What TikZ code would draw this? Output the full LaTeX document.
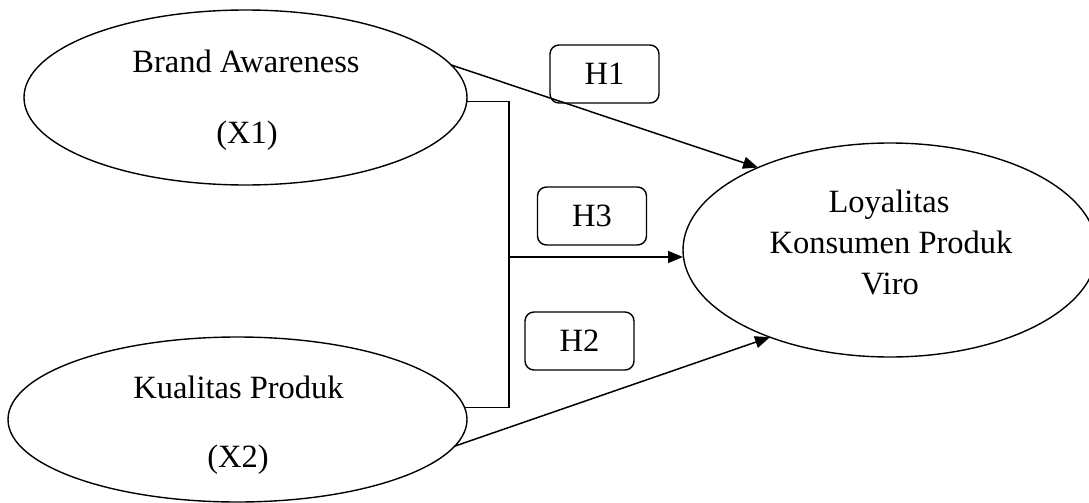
\documentclass[tikz,border=0pt]{standalone}
\usepackage{fontspec}
\setmainfont{Liberation Serif}
\usetikzlibrary{shapes.geometric,arrows.meta}
\begin{document}
\begin{tikzpicture}[x=1pt,y=-1pt,
  var/.style={draw,ellipse,line width=1.4pt,inner sep=0pt,outer sep=0pt},
  lbl/.style={anchor=base,inner sep=0pt,font=\fontsize{32.5}{39}\selectfont},
  hbox/.style={draw,rounded corners=9pt,line width=1.4pt,minimum width=109pt,minimum height=58pt,inner sep=0pt,font=\fontsize{32.5}{39}\selectfont},
  conn/.style={line width=1.5pt},
  arr/.style={conn,-{Triangle[length=15pt,width=12pt]}}]
\useasboundingbox (0,0) rectangle (1089,503);
\clip (0,0) rectangle (1089,503);
% ellipses
\node[var,minimum width=443pt,minimum height=175pt] (ba) at (245.5,97.5) {};
\node[var,minimum width=459pt,minimum height=165pt] (kp) at (237.5,419.5) {};
\node[var,minimum width=414pt,minimum height=214pt] (loy) at (890,250) {};
% labels
\node[lbl] (t1) at (246,72) {Brand Awareness};
\node[lbl] (t2) at (247,143) {(X1)};
\node[lbl] (t3) at (238.5,398) {Kualitas Produk};
\node[lbl] (t4) at (238,467) {(X2)};
\node[lbl] (t5) at (889,212) {Loyalitas};
\node[lbl] (t6) at (891,253) {Konsumen Produk};
\node[lbl] (t7) at (890,294) {Viro};
% hypothesis boxes
\node[hbox] (h1) at (604.5,74) {H1};
\node[hbox] (h3) at (592,216) {H3};
\node[hbox] (h2) at (579.5,341) {H2};
% connectors
\coordinate (j) at (509,257);
\draw[conn] (ba.-1.2) -| (j) |- (kp.3.9);
\draw[arr] (j) -- (j -| loy.west);
\draw[arr] (ba.9.6) -- (loy.148.3);
\draw[arr] (kp.-7.1) -- (loy.216);
\end{tikzpicture}
\end{document}
